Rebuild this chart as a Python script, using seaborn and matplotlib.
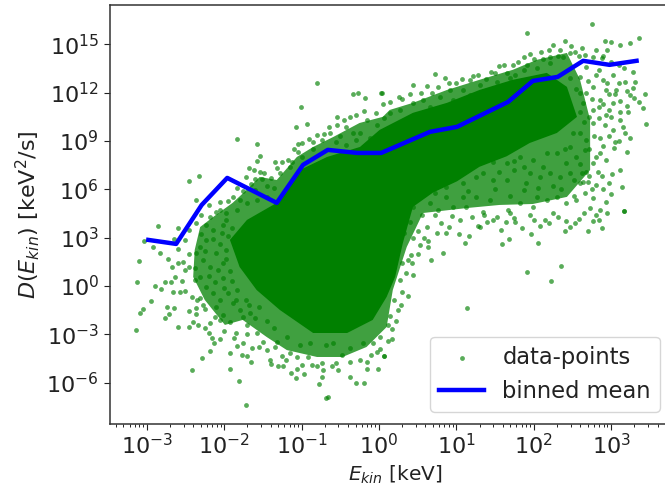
import numpy as np
import pandas as pd
import seaborn as sns
import matplotlib.pyplot as plt
from matplotlib import ticker

# all values are log10(E_kin), log10(D)

# blue binned mean
mean_logx = [-2.98, -2.62, -2.29, -1.96, -1.32, -0.98, -0.66, -0.28, 0.03, 0.66, 1.01, 1.67, 1.99, 2.31, 2.64, 2.98, 3.33]
mean_logy = [2.86, 2.61, 5.03, 6.71, 5.16, 7.52, 8.45, 8.26, 8.26, 9.57, 9.88, 11.43, 12.73, 12.98, 13.98, 13.73, 13.98]

# outline of the area where the points merge into solid green
solid_logx = [-1.925, -1.705, -1.32, -1.02, -0.67, -0.245, 0.01, 0.44, 0.88, 1.30, 1.73, 2.17, 2.43, 2.56, 2.30,
              1.95, 1.65, 1.30, 1.01, 0.70, 0.44, 0.31, 0.21, 0.10, -0.08, -0.41, -0.85, -1.28, -1.58, -1.80]
solid_logy = [2.86, 4.10, 5.16, 7.20, 8.01, 8.63, 9.69, 10.75, 11.37, 12.17, 12.80, 13.23, 12.36, 10.50, 9.50,
              8.88, 8.05, 7.40, 6.50, 5.80, 4.91, 2.67, 0.56, -0.68, -2.11, -2.92, -2.92, -1.49, -0.25, 1.18]

# outline of the speckled area around it, points overlap heavily but not fully
speckle_logx = [-2.38, -2.40, -2.25, -1.99, -1.76, -1.45, -1.19, -0.80, -0.47, -0.16, 0.10, 0.18, 0.36, 0.57, 0.70, 1.14, 1.56,
                1.99, 2.43, 2.73, 2.73, 2.60, 2.43, 2.04, 1.73, 1.30, 0.88, 0.44, 0.14, 0.05, -0.25, -0.59, -0.85, -1.06,
                -1.32, -1.54, -1.71, -1.89, -2.14, -2.31]
speckle_logy = [2.24, 0.56, -0.87, -2.42, -2.11, -3.17, -3.98, -4.41, -4.41, -3.79, -2.55, -0.25, 2.42, 4.53, 4.6, 4.84, 5.03,
                5.09, 5.53, 7.2, 10.3, 12.8, 14.47, 14.04, 13.42, 12.8, 12.17, 11.37, 10.93, 10.5, 10.12, 9.25, 8.63, 8.01,
                6.58, 6.77, 5.96, 5.16, 4.29, 3.66]

# individual points outside the solid area
upper_left = [(-0.797, 12.58), (-0.33, 11.9), (-0.27, 11.96), (-0.18, 11.7), (0.034, 11.96), (-1.01, 11.09), (-0.19, 10.89),
              (-0.54, 10.51), (-0.375, 10.47), (-0.04, 10.72), (-1.07, 9.87), (-0.935, 10.08), (-0.54, 10.0), (-0.43, 9.89),
              (-1.84, 9.15), (-1.57, 8.84), (-1.54, 8.07), (-1.58, 7.74), (-2.46, 6.5), (-2.33, 6.81), (-2.36, 5.34),
              (-1.68, 7.3), (-1.61, 7.2), (-1.54, 7.06), (-1.48, 7.04), (-1.72, 6.79), (-1.60, 6.64), (-1.51, 6.62),
              (-1.40, 6.68), (-1.34, 7.68), (-1.32, 7.35), (-1.17, 7.82), (-1.12, 7.72), (-1.15, 7.41), (-1.28, 7.0),
              (-1.05, 8.82), (-1.0, 8.86), (-1.04, 8.34), (-0.99, 8.03), (-0.85, 8.92), (-0.85, 8.48), (-0.71, 9.44),
              (-0.63, 9.52), (-0.73, 9.06), (-0.5, 9.31), (-0.33, 9.52), (-0.55, 8.96), (-0.25, 9.48), (-0.16, 10.31),
              (-0.03, 10.0), (0.06, 10.41), (-0.42, 8.75), (-0.29, 9.06), (-0.12, 9.17), (-1.88, 5.54), (-1.8, 5.34),
              (-1.71, 5.13), (-2.1, 4.61), (-2.18, 4.3), (-1.97, 4.51), (-1.84, 4.72), (-1.58, 5.34), (-1.45, 5.54),
              (-1.6, 5.96), (-1.84, 6.06), (-0.3, 10.6), (-0.45, 10.3), (-0.65, 9.9), (-0.8, 9.4), (-0.9, 9.1), (-1.1, 8.5),
              (-1.25, 7.7), (-2.3, 4.4), (-2.2, 5.0), (-2.05, 5.2), (-1.95, 5.3), (-1.75, 5.9), (-1.65, 6.3), (-1.45, 6.2),
              (-1.35, 6.1), (-2.05, 4.7)]
lower_left = [(-2.86, 3.75), (-3.04, 2.82), (-2.92, 2.44), (-2.83, 2.03), (-3.1, 1.55), (-3.12, 0.27), (-2.72, 1.68),
              (-2.68, 1.2), (-2.59, 1.41), (-2.53, 1.47), (-2.64, 0.58), (-2.89, 0.02), (-2.81, -0.21), (-2.77, 0.23),
              (-2.69, 0.27), (-2.66, -0.39), (-2.57, -0.35), (-2.94, -0.91), (-3.05, -1.43), (-3.09, -1.66), (-3.14, -2.73),
              (-2.74, -1.33), (-2.65, -1.35), (-2.71, -1.74), (-2.77, -2.01), (-2.6, -2.53), (-2.46, -2.53), (-2.46, -1.55),
              (-2.36, -1.39), (-2.27, -1.18), (-2.36, -1.74), (-2.4, -2.22), (-2.34, -2.42), (-2.25, -2.63), (-2.2, -2.94),
              (-2.16, -3.25), (-2.13, -3.56), (-2.05, -3.31), (-2.18, -4.04), (-2.29, -4.49), (-2.42, -5.22), (-1.92, -5.18),
              (-1.81, -5.88), (-1.72, -7.41), (-1.92, -4.14), (-1.87, -3.25), (-1.83, -3.73), (-1.75, -3.56), (-1.77, -4.29),
              (-1.70, -4.33), (-1.65, -4.7), (-1.64, -3.87), (-1.41, -4.6), (-1.39, -4.85), (-1.31, -4.95), (-1.24, -4.95),
              (-1.34, -3.77), (-1.25, -4.33), (-1.15, -4.18), (-1.06, -4.39), (-1.06, -5.18), (-1.13, -5.43), (-1.07, -5.74),
              (-0.97, -5.49), (-0.86, -4.91), (-0.74, -4.76), (-0.72, -5.22), (-0.73, -5.67), (-0.78, -6.09), (-0.66, -6.87),
              (-0.68, -6.98), (-0.61, -4.97), (-0.53, -5.22), (-0.37, -4.7), (-0.37, -5.63), (-0.3, -6.0), (-0.19, -6.0),
              (-0.16, -5.18), (-0.01, -5.18), (-0.16, -4.7), (-0.03, -4.08), (0.06, -4.33), (-0.48, -4.29), (-0.91, -4.39),
              (-1.02, -3.67), (-0.89, -3.56), (-0.68, -3.67), (-0.59, -3.56), (-0.37, -3.87), (-0.2, -3.56), (-0.07, -3.56),
              (-1.19, -3.15), (-1.32, -3.46), (-1.5, -3.46), (-1.58, -2.94), (-1.71, -2.42), (-1.75, -1.91), (-1.67, -1.7),
              (-1.93, -2.22), (-2.01, -1.8), (-2.1, -1.28), (-2.05, -2.11), (-2.18, -2.32), (-2.12, -1.9), (-2.0, -2.8),
              (-1.85, -2.9), (-1.7, -3.0), (-1.55, -3.8), (-1.45, -4.0), (-1.2, -4.6), (-1.0, -4.9), (-0.8, -5.0),
              (-0.55, -4.8), (-0.25, -4.6), (-0.1, -4.3), (0.02, -3.9), (0.12, -3.4), (0.22, -2.2)]
left_cluster = [(-2.36, 2.03), (-2.31, 2.44), (-2.23, 2.86), (-2.14, 3.48), (-2.03, 3.27), (-2.27, 1.61), (-2.1, 2.03),
                (-1.97, 2.24), (-2.18, 1.2), (-2.31, 0.58), (-2.38, 0.37), (-2.23, -0.04), (-2.12, 0.27), (-2.01, 0.48),
                (-1.95, -0.46), (-2.14, -0.46), (-2.05, -0.87), (-1.88, -1.08), (-1.8, -1.49), (-2.46, 1.2), (-2.38, 1.1),
                (-2.42, -0.66), (-2.31, -0.77), (-2.51, 2.86), (-2.59, 3.58), (-2.36, 3.89), (-2.23, 3.79), (-1.97, 4.1),
                (-2.01, 1.41), (-1.84, -0.25), (-1.95, 3.1), (-2.05, 2.6), (-1.98, 1.7), (-2.08, 1.0), (-1.93, 0.9),
                (-2.2, 0.6), (-2.0, -0.1), (-1.9, 0.3), (-2.25, 2.2), (-2.15, 2.9), (-2.3, 3.2), (-2.02, 3.8), (-1.9, 3.6),
                (-1.85, -0.9), (-1.72, -0.9), (-1.68, -1.2), (-1.55, -1.3), (-1.45, -2.2), (-1.6, -2.0), (-1.35, -2.6),
                (-2.45, 2.0), (-2.5, 1.0), (-2.55, 0.3), (-2.5, -0.3), (-2.35, -0.9), (-2.25, -1.4), (-2.6, 2.3),
                (-2.65, 2.9), (-2.45, 3.5)]
upper_right = [(2.76, 16.27), (1.91, 15.69), (0.03, 11.96), (0.26, 11.76), (0.44, 12.48), (0.62, 12.42), (0.72, 13.14),
               (0.77, 12.34), (0.9, 12.58), (1.08, 12.83), (1.18, 12.79), (1.22, 13.06), (1.39, 12.83), (1.5, 13.2),
               (1.55, 13.66), (1.65, 13.2), (1.73, 13.72), (1.87, 14.2), (2.01, 14.07), (1.91, 13.72), (2.12, 14.07),
               (2.25, 14.96), (2.41, 15.19), (2.34, 14.65), (2.21, 14.24), (2.47, 14.45), (2.62, 14.8), (2.53, 14.55),
               (2.66, 14.34), (2.8, 14.65), (2.95, 14.65), (2.92, 15.23), (3.0, 15.17), (3.12, 14.96), (3.24, 15.11),
               (3.36, 15.38), (2.77, 14.24), (2.88, 14.14), (3.17, 13.52), (3.29, 13.31), (3.31, 12.69), (3.18, 12.69),
               (3.44, 11.9), (3.41, 11.07), (3.36, 11.45), (3.24, 11.86), (3.22, 10.82), (3.45, 10.08), (3.18, 9.48),
               (3.05, 8.96), (3.04, 8.55), (3.2, 8.34), (0.14, 10.72), (0.27, 10.93), (0.44, 11.34), (0.57, 11.55),
               (0.79, 11.76), (0.92, 12.17), (1.09, 12.17), (1.31, 12.48), (1.52, 12.69), (1.69, 12.9), (1.87, 13.41),
               (2.04, 13.52), (2.21, 13.83), (2.38, 14.24), (0.66, 11.13), (0.96, 11.55), (1.18, 11.86), (1.43, 12.17),
               (1.76, 13.1), (2.6, 11.96), (2.77, 12.38), (2.94, 12.17), (3.07, 12.17), (2.6, 13.0), (2.81, 13.1),
               (3.03, 13.1), (2.47, 12.9), (2.77, 10.93), (2.64, 11.34), (2.86, 11.55), (3.03, 11.34), (3.11, 10.3),
               (2.77, 10.1), (2.94, 10.62), (3.03, 9.69), (2.86, 9.17), (2.68, 9.06), (2.6, 9.48), (2.7, 12.7), (2.9, 12.8),
               (2.68, 12.0), (2.85, 11.1), (2.98, 11.9), (3.12, 11.5), (2.72, 10.5), (2.92, 10.0), (3.1, 12.6), (2.55, 12.2),
               (3.2, 12.1), (3.28, 12.3), (3.2, 11.2), (3.3, 11.7), (3.1, 13.7), (3.0, 13.9), (2.9, 14.3), (2.85, 13.4),
               (2.68, 13.6), (2.95, 12.6), (3.05, 11.9), (2.9, 11.3), (3.12, 10.8), (2.98, 10.9), (2.65, 10.2), (2.75, 11.6),
               (2.6, 10.8), (0.05, 11.3), (0.15, 11.4), (0.3, 11.6), (0.4, 11.9), (0.55, 12.0), (0.68, 12.0), (0.85, 12.9),
               (1.0, 12.6), (1.28, 13.1), (1.45, 13.3), (1.62, 13.7), (1.8, 13.9), (1.95, 14.4), (2.1, 14.5), (2.2, 14.65),
               (2.32, 14.3), (2.48, 14.9), (2.58, 14.3), (3.0, 10.5), (2.85, 10.4), (3.15, 9.9), (2.97, 9.3), (2.78, 9.3),
               (3.1, 9.0), (3.25, 9.2)]
lower_right = [(3.11, 7.2), (3.01, 6.95), (3.14, 6.12), (2.98, 6.37), (3.17, 4.67), (2.94, 5.23), (2.86, 4.72), (2.73, 4.82),
               (2.77, 5.44), (2.64, 6.48), (2.6, 6.37), (2.7, 6.48), (2.81, 6.27), (2.68, 7.1), (2.83, 7.1), (2.66, 8.44),
               (2.86, 8.24), (2.77, 7.62), (2.51, 9.48), (2.47, 8.65), (2.55, 8.03), (2.42, 7.62), (2.47, 7.0), (2.34, 6.79),
               (2.21, 7.0), (2.12, 7.41), (2.17, 8.24), (2.3, 8.24), (1.99, 7.82), (2.08, 6.79), (1.95, 7.0), (1.87, 7.41),
               (1.74, 7.2), (1.82, 8.03), (1.65, 7.62), (1.48, 7.72), (1.65, 6.58), (1.48, 6.58), (1.87, 5.96), (2.04, 5.54),
               (2.17, 5.34), (2.3, 5.54), (2.42, 5.13), (2.55, 5.34), (1.99, 4.92), (1.82, 5.13), (1.67, 4.72), (1.35, 4.61),
               (1.43, 5.34), (1.26, 5.54), (1.09, 5.54), (1.13, 4.92), (0.96, 4.92), (0.87, 5.54), (0.77, 4.72), (0.66, 5.13),
               (0.44, 4.92), (0.87, 6.17), (1.09, 6.37), (1.26, 6.79), (1.35, 7.0), (1.55, 7.1), (1.75, 7.75), (1.9, 6.4),
               (2.25, 6.2), (2.35, 6.0), (2.52, 6.6), (2.6, 7.6), (2.4, 8.5), (2.05, 6.1), (1.7, 5.6), (1.5, 6.0), (1.15, 5.9),
               (0.72, 5.8), (0.56, 4.4), (0.44, 2.96), (0.53, 2.55), (0.64, 2.82), (0.64, 2.4), (0.62, 3.68), (0.83, 2.07),
               (0.67, 1.61), (0.44, 0.68), (0.35, 0.83), (0.41, 1.92), (0.38, 1.61), (0.37, -0.62), (0.28, -1.18), (0.25, -1.49),
               (0.15, -1.86), (0.17, -2.65), (0.17, -3.31), (0.06, -4.33), (1.14, -1.35), (1.91, 0.89), (2.23, 0.33), (2.35, 1.26),
               (2.05, 2.65), (1.97, 3.23), (1.68, 2.92), (1.59, 2.59), (1.11, 2.65), (1.17, 3.1), (1.03, 3.23), (0.87, 3.27),
               (0.9, 3.68), (1.31, 3.68), (1.47, 4.1), (1.64, 3.95), (1.76, 3.95), (2.0, 4.1), (2.15, 4.1), (2.42, 4.04),
               (2.47, 3.64), (2.58, 4.14), (2.77, 4.04), (2.88, 3.62), (1.36, 4.41), (1.69, 4.51), (2.25, 4.51), (2.81, 4.41),
               (3.17, 4.66), (0.4, 4.0), (0.5, 3.4), (0.33, 3.3), (0.3, 1.4), (0.27, 0.4), (0.2, -0.9), (0.12, -2.4), (0.02, -3.2),
               (0.72, 4.4), (0.8, 3.9), (0.95, 4.35), (1.05, 4.1), (1.2, 4.3), (1.28, 3.7), (1.4, 4.0), (1.52, 4.3), (1.58, 3.5),
               (1.75, 4.25), (1.85, 3.6), (1.95, 4.4), (2.08, 3.7), (2.2, 3.9), (2.32, 4.3), (2.4, 3.4), (2.53, 3.9), (2.65, 4.5),
               (2.7, 3.4), (2.85, 4.1), (2.95, 4.5), (3.0, 5.7), (2.9, 6.0), (2.75, 6.0), (2.88, 6.8), (2.72, 6.8), (2.93, 7.8),
               (2.8, 8.0), (2.62, 7.0), (2.66, 5.8), (2.52, 5.6), (2.9, 8.7), (2.72, 8.5), (0.3, -0.4), (0.43, 1.4), (0.5, 2.0),
               (0.58, 3.0), (0.75, 3.3)]

points = pd.DataFrame(upper_left + lower_left + left_cluster + upper_right + lower_right, columns=['logx', 'logy'])
points['E'] = 10.0 ** points['logx']
points['D'] = 10.0 ** points['logy']
binned = pd.DataFrame({'E': 10.0 ** np.array(mean_logx), 'D': 10.0 ** np.array(mean_logy)})

fig = plt.figure(figsize=(6.65, 4.93), dpi=100)
# right edge of the axes sits just past the image, as in the original crop
ax = fig.add_axes([0.1654, 0.14, 0.857, 0.85])

ax.fill(10.0 ** np.array(speckle_logx), 10.0 ** np.array(speckle_logy), color='green', alpha=0.75, lw=0, zorder=1)
ax.fill(10.0 ** np.array(solid_logx), 10.0 ** np.array(solid_logy), color='green', lw=0, zorder=1.5)
sns.scatterplot(data=points, x='E', y='D', color='green', alpha=0.65, s=12, linewidth=0,
                label='data-points', ax=ax, zorder=2)
sns.lineplot(data=binned, x='E', y='D', color='blue', lw=3.2, sort=False, estimator=None,
             label='binned mean', ax=ax, zorder=3)

ax.set_xscale('log')
ax.set_yscale('log')
ax.set_xlim(10 ** -3.475, 10 ** 3.89)
ax.set_ylim(10 ** -8.57, 10 ** 17.45)
ax.yaxis.set_major_locator(ticker.FixedLocator([10.0 ** p for p in range(-6, 16, 3)]))
ax.yaxis.set_minor_locator(ticker.NullLocator())
ax.xaxis.set_major_locator(ticker.FixedLocator([10.0 ** p for p in range(-3, 4)]))
ax.xaxis.set_minor_locator(ticker.LogLocator(base=10, subs=np.arange(2, 10), numticks=12))
ax.xaxis.set_minor_formatter(ticker.NullFormatter())
ax.tick_params(axis='both', which='major', labelsize=16, colors='#222222', length=4.5)
ax.tick_params(axis='x', which='major', pad=2)
ax.set_xlabel(r'$E_{kin}$ [keV]', fontsize=14.5, color='#222222', labelpad=4)
ax.set_ylabel(r'$D(E_{kin})$ [keV$^2$/s]', fontsize=16, color='#222222', labelpad=3)
for spine in ax.spines.values():
    spine.set_color('#333333')
    spine.set_linewidth(1.1)

ax.legend(loc='lower right', bbox_to_anchor=(660 / 665, 1 - 412 / 493), bbox_transform=fig.transFigure,
          borderaxespad=0, fontsize=16.3, labelcolor='#222222')

fig.savefig('out.png', dpi=100)
